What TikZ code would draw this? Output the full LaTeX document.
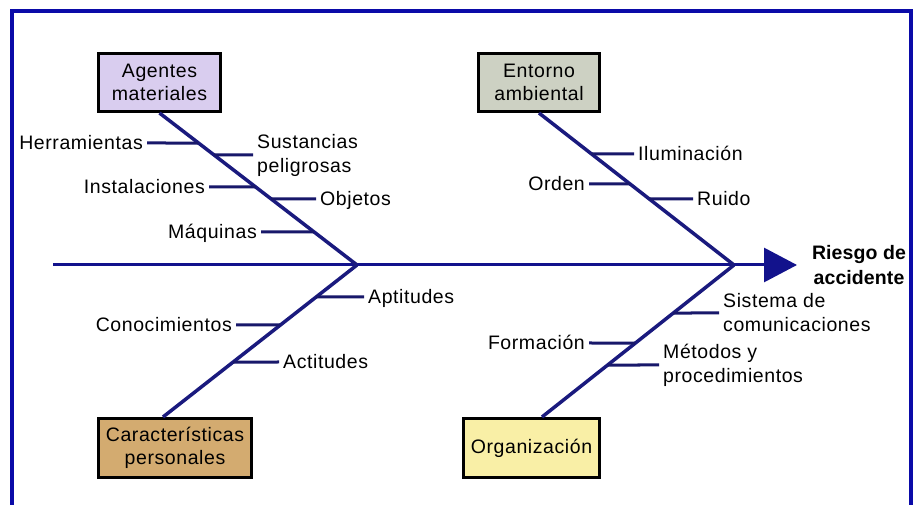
\documentclass[tikz,border=0pt]{standalone}
\usepackage{fontspec}
\setmainfont{Liberation Sans}[LetterSpace=3]
\newfontfamily\riskfont{Liberation Sans}[LetterSpace=0.5]
\usetikzlibrary{arrows.meta,calc}
\definecolor{frameblue}{HTML}{0A0AA8}
\definecolor{bonecol}{HTML}{1A1A7E}
\definecolor{twigcol}{HTML}{18186A}
\definecolor{arrowcol}{HTML}{12128C}
\definecolor{lavender}{HTML}{D9CDEF}
\definecolor{greygreen}{HTML}{CDD1C3}
\definecolor{tan}{HTML}{D3AB70}
\definecolor{paleyellow}{HTML}{F9EFA6}
\begin{document}
\begin{tikzpicture}[x=1pt,y=-1pt,
  box/.style={draw=black, line width=3pt, align=center, inner sep=0pt,
    font=\fontsize{19.5}{23}\selectfont},
  lab/.style={inner xsep=4pt, inner ysep=0pt, text height=14pt, text depth=0pt,
    font=\fontsize{19.5}{23}\selectfont},
  labtwo/.style={inner xsep=4pt, inner ysep=0pt, align=left,
    font=\fontsize{19.5}{24}\selectfont},
  bonel/.style={draw=bonecol, line width=3.5pt},
  twig/.style={draw=twigcol, line width=3pt},
  spine/.style={draw=bonecol, line width=3pt}]
\useasboundingbox (0,0) rectangle (914,505);
\fill[white] (0,0) rectangle (914,505);
% frame
\draw[frameblue, line width=4.5pt] (12,505) -- (12,11) -- (911,11) -- (911,505);

% category boxes
\node[box, fill=lavender, minimum width=122pt, minimum height=58pt] (am) at (159.5,82.5) {Agentes\\materiales};
\node[box, fill=greygreen, minimum width=121pt, minimum height=58pt] (ea) at (539,82.5) {Entorno\\ambiental};
\node[box, fill=tan, minimum width=153pt, minimum height=59pt] (cp) at (175,448) {Características\\personales};
\node[box, fill=paleyellow, minimum width=136pt, minimum height=59pt] (org) at (531.5,448) {Organización};

% junctions and spine
\coordinate (S) at (53,265);
\coordinate (J1) at (357,265);
\coordinate (J2) at (734,265);
\coordinate (T) at (797,265);
\draw[spine, -{Triangle[length=33pt,width=34pt]}, arrowcol] (S) -- (T);
\node[font=\riskfont\bfseries\fontsize{19.5}{25}\selectfont, align=center, inner sep=0pt] (risk) at (859,265) {Riesgo de\\accidente};

% bone start points
\coordinate (amb) at (am.south);
\coordinate (eab) at (ea.south);
\coordinate (cpb) at ($(cp.north)+(-12,0)$);
\coordinate (orgb) at ($(org.north)+(10.5,0)$);

\draw[bonel] (amb) -- (J1);
\draw[bonel] (eab) -- (J2);
\draw[bonel] (cpb) -- (J1);
\draw[bonel] (orgb) -- (J2);

% Agentes materiales
\node[lab, anchor=east] (herr) at (147,143) {Herramientas};
\node[labtwo, anchor=west] (sust) at (253,155) {Sustancias\\peligrosas};
\node[lab, anchor=east] (inst) at (209,187) {Instalaciones};
\node[lab, anchor=west] (obj) at (316,199) {Objetos};
\node[lab, anchor=east] (maq) at (261,232) {Máquinas};
\draw[twig] (herr.east) -- ($(amb)!0.1974!(J1)$);
\draw[twig] (sust.west) -- ($(amb)!0.2763!(J1)$);
\draw[twig] (inst.east) -- ($(amb)!0.4868!(J1)$);
\draw[twig] (obj.west) -- ($(amb)!0.5658!(J1)$);
\draw[twig] (maq.east) -- ($(amb)!0.7829!(J1)$);

% Entorno ambiental
\node[lab, anchor=west] (ilum) at (634,154) {Iluminación};
\node[lab, anchor=east] (orden) at (589,184) {Orden};
\node[lab, anchor=west] (ruido) at (693,199) {Ruido};
\draw[twig] (ilum.west) -- ($(eab)!0.2697!(J2)$);
\draw[twig] (orden.east) -- ($(eab)!0.4671!(J2)$);
\draw[twig] (ruido.west) -- ($(eab)!0.5658!(J2)$);

% Caracteristicas personales
\node[lab, anchor=west] (apt) at (364,297) {Aptitudes};
\node[lab, anchor=east] (con) at (236,325) {Conocimientos};
\node[lab, anchor=west] (act) at (279,362) {Actitudes};
\draw[twig] (apt.west) -- ($(cpb)!0.7895!(J1)$);
\draw[twig] (con.east) -- ($(cpb)!0.6053!(J1)$);
\draw[twig] (act.west) -- ($(cpb)!0.3618!(J1)$);

% Organizacion
\node[labtwo, anchor=west] (sis) at (719,313) {Sistema de\\comunicaciones};
\node[lab, anchor=east] (form) at (589,343) {Formación};
\node[labtwo, anchor=west] (met) at (659,365) {Métodos y\\procedimientos};
\draw[twig] (sis.west) -- ($(orgb)!0.6842!(J2)$);
\draw[twig] (form.east) -- ($(orgb)!0.4868!(J2)$);
\draw[twig] (met.west) -- ($(orgb)!0.3421!(J2)$);
\end{tikzpicture}
\end{document}
